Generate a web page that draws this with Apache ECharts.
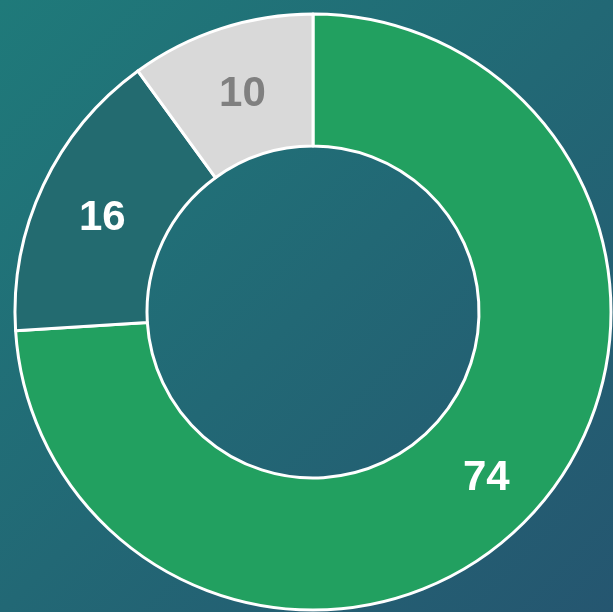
<!DOCTYPE html>
<html>
    <head>
        <meta charset="utf-8">
        <script src="https://cdn.jsdelivr.net/npm/echarts@6/dist/echarts.min.js"></script>
        <style type="text/css">
            #main {height:100%;width:100%;position:absolute;}
            body {margin:0px;padding:0px;overflow:hidden;}
        </style>
    </head>
    <body>
        <div id="main"></div>
        <script type="text/javascript">
            // 数据
            let names = ['A', 'B', 'C'];
            let values = [74, 16, 10];
            let colors = ['#22a060', '#236b70', '#d9d9d9'];
            let labelColors = ['#ffffff', '#ffffff', '#808080'];

            let myChart = echarts.init(document.getElementById('main'));

            let data = [];
            for (let i = 0; i < values.length; i++) {
                data.push({
                    name: names[i],
                    value: values[i],
                    itemStyle: {color: colors[i]},
                    label: {rich: {v: {color: labelColors[i]}}}
                });
            }

            let option = {
                animation: false,
                backgroundColor: {
                    type: 'linear', x: 0, y: 0, x2: 1, y2: 1,
                    colorStops: [
                        {offset: 0, color: '#1f7a7a'},
                        {offset: 1, color: '#255670'}
                    ]
                },
                series: [{
                    type: 'pie',
                    center: [313, 312],
                    radius: [166, 298],
                    startAngle: 90,
                    clockwise: true,
                    itemStyle: {borderColor: '#ffffff', borderWidth: 3},
                    label: {
                        show: true,
                        position: 'inside',
                        formatter: '{v|{c}}',
                        rich: {
                            v: {
                                fontSize: 42,
                                fontWeight: 'bold',
                                fontFamily: 'Liberation Sans, Arial, sans-serif',
                                lineHeight: 42,
                                padding: [12, 0, 0, 4]
                            }
                        }
                    },
                    labelLine: {show: false},
                    emphasis: {disabled: true},
                    data: data
                }]
            };
            myChart.setOption(option);
            window.onresize = myChart.resize;
        </script>
    </body>
</html>
